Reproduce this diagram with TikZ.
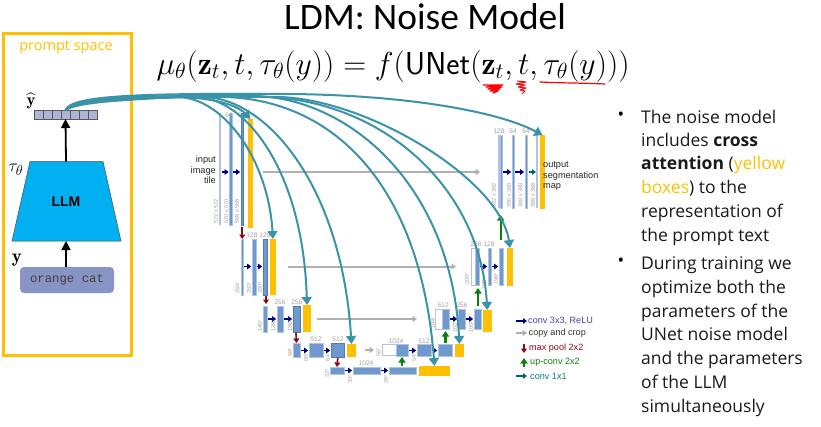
\documentclass[tikz,border=0pt]{standalone}
\usepackage{amsmath}
\usepackage{fontspec}
\usetikzlibrary{arrows.meta,shapes.geometric}
\newfontfamily\slidefont{Open Sans}
\newfontfamily\figfont{Liberation Sans}
\newfontfamily\codefont{Liberation Mono}
\definecolor{gold}{HTML}{FFC000}
\definecolor{tealc}{HTML}{3A93A8}
\definecolor{barblue}{HTML}{6F99CC}
\definecolor{barlight}{HTML}{AFC4E2}
\definecolor{dotc}{HTML}{4F7BB8}
\definecolor{navyc}{HTML}{00007F}
\definecolor{darkred}{HTML}{8B0A14}
\definecolor{greenc}{HTML}{0A7F0A}
\definecolor{greyc}{HTML}{B0B0B0}
\definecolor{labelgrey}{HTML}{A0A0A0}
\definecolor{cellc}{HTML}{AEB6D8}
\definecolor{skyc}{HTML}{00B0F0}
\definecolor{promptc}{HTML}{8794C4}
\newcounter{lblctr}
\tikzset{
  blk/.style={inner sep=0pt,outer sep=0pt,draw=none},
  bluebar/.style={blk,fill=barblue,draw=barlight,line width=.5pt},
  lightbar/.style={blk,fill=barlight},
  whitebar/.style={blk,fill=white,draw=barlight,line width=.7pt},
  dotbar/.style={blk,fill=barblue,draw=dotc,line width=.4pt},
  yellowbar/.style={blk,fill=gold},
  fanline/.style={draw=tealc,line width=2pt,-{Triangle[length=8pt,width=10pt]}},
  navyarr/.style={draw=navyc,line width=1.6pt,-{Triangle[length=4pt,width=5.5pt]},shorten <=.8pt,shorten >=.8pt},
  greyarr/.style={draw=greyc,line width=2pt,-{Triangle[length=4.5pt,width=6pt]}},
  redarr/.style={draw=darkred,line width=1.7pt,-{Triangle[length=4.5pt,width=6pt]}},
  greenarr/.style={draw=greenc,line width=2.2pt,-{Triangle[length=5.5pt,width=7pt]}},
  tealarr/.style={draw=teal!80!black,line width=1.6pt,-{Triangle[length=4pt,width=5.5pt]}},
  blackarr/.style={draw=black,line width=1.8pt,-{Triangle[length=9pt,width=9pt]}},
  numlab/.style={font=\figfont\fontsize{6.6}{7}\selectfont,text=labelgrey,inner sep=0pt},
  sizelab/.style={font=\figfont\fontsize{5.6}{6}\selectfont,text=labelgrey,inner sep=0pt,rotate=90},
  figlab/.style={font=\figfont\fontsize{9.2}{10.6}\selectfont,inner sep=0pt,text=black!85},
  legend/.style={font=\figfont\fontsize{9.1}{10}\selectfont,inner sep=0pt,anchor=west},
  bullettext/.style={font=\slidefont\fontsize{17.5}{20}\selectfont,inner sep=0pt,anchor=base west,text=black!90},
  scribble/.style={draw=red,line cap=round,line join=round},
}
\newcommand{\mybar}[6]{%
  \pgfmathsetmacro{\bw}{#4-#2}\pgfmathsetmacro{\bh}{#5-#3}%
  \pgfmathsetmacro{\bx}{(#4+#2)/2}\pgfmathsetmacro{\by}{(#5+#3)/2}%
  \node[#6,minimum width=\bw pt,minimum height=\bh pt] (#1) at (\bx,\by) {};}
\newcommand{\numl}[3]{\stepcounter{lblctr}\node[numlab] (n\thelblctr) at (#1,#2) {#3};}
\newcommand{\sizel}[3]{\stepcounter{lblctr}\node[sizelab,anchor=west] (s\thelblctr) at (#1,#2) {#3};}
\newcommand{\bul}[3]{\stepcounter{lblctr}\node[bullettext] (t\thelblctr) at (#1,#2) {#3};}
\begin{document}
\begin{tikzpicture}[x=1pt,y=-1pt]
\useasboundingbox (0,0) rectangle (821,426);
% title and formula
\node[font=\fontspec{Carlito}\fontsize{37.4}{42}\selectfont,inner sep=0pt] (title) at (425,17) {LDM: Noise Model};
\node[inner sep=0pt,anchor=base,scale=1.53] (formula) at (393,74) {\fontsize{20.74}{25}\selectfont $\mu_\theta(\mathbf{z}_t,t,\tau_\theta(y))=f(\textsf{UNet}(\mathbf{z}_t,t,\tau_\theta(y)))$};
% prompt panel
\node[blk,draw=gold,line width=3pt,minimum width=128pt,minimum height=322pt] (panel) at (67,194) {};
\node[inner sep=0pt,text=gold,font=\slidefont\fontsize{14.5}{17}\selectfont] (ps) at (66,47) {prompt space};
\foreach \i in {1,...,7}{
  \pgfmathsetmacro{\cx}{38.5+9*(\i-1)}
  \node[blk,fill=cellc,draw=black!65,line width=.8pt,minimum width=9pt,minimum height=9pt] (c\i) at (\cx,114.5) {};
}
\node[inner sep=0pt,font=\fontsize{17}{20}\selectfont] (yhat) at (31,101) {$\widehat{\mathbf{y}}$};
\draw[fill=skyc,draw=black!70,line width=.5pt] (30,161.5) -- (103,161.5) -- (121,241) -- (12,241) -- cycle;
\node[blk,minimum width=28pt,minimum height=79.5pt,font=\figfont\bfseries\fontsize{14}{16}\selectfont] (llm) at (66,201.25) {LLM};
\node[inner sep=0pt,font=\fontsize{19}{22}\selectfont] (tau) at (16,170) {$\tau_\theta$};
\node[inner sep=0pt,font=\fontsize{19}{22}\selectfont] (ylab) at (17,260) {$\mathbf{y}$};
\node[blk,fill=promptc,rounded corners=4pt,minimum width=94pt,minimum height=26pt,text=black!75,font=\codefont\fontsize{12.3}{14}\selectfont] (prompt) at (67,280) {orange cat};
\draw[blackarr] (llm.north) -- (c4.south);
\draw[blackarr] (prompt.north-|llm.south) -- (llm.south);
% level rows
\coordinate (r1) at (0,172);\coordinate (r2) at (0,266.5);\coordinate (r3) at (0,319);\coordinate (r4) at (0,350.5);\coordinate (r5) at (0,370.5);
% contracting path
\mybar{a1}{219}{113}{221}{225}{lightbar}
\mybar{a2}{229.5}{113}{232}{225}{bluebar}
\mybar{a3}{241}{113}{243.5}{225}{dotbar}
\mybar{ya}{248}{119}{253}{228}{yellowbar}
\mybar{b1}{241}{239}{243.5}{295}{bluebar}
\mybar{b2}{252}{239}{256}{295}{bluebar}
\mybar{b3}{263}{239}{267}{295}{dotbar}
\mybar{yb}{270}{239}{276}{295}{yellowbar}
\mybar{c1b}{263.5}{306}{267}{332}{bluebar}
\mybar{c2b}{277}{306}{283}{332}{bluebar}
\mybar{c3b}{293}{306}{300}{332}{dotbar}
\mybar{yc}{303}{305}{311}{332}{yellowbar}
\mybar{d1}{293}{343}{300}{357}{bluebar}
\mybar{d2}{309}{343}{323}{357}{bluebar}
\mybar{d3}{331}{343}{344.5}{357}{dotbar}
\mybar{yd}{347}{344}{356}{357}{yellowbar}
\mybar{e1}{330}{367}{344}{374}{bluebar}
\mybar{e2}{353}{367}{380}{374}{bluebar}
\mybar{e3}{389}{367}{416}{374}{bluebar}
\mybar{ye}{419}{366}{450}{376}{yellowbar}
% expanding path
\mybar{f0}{382}{344.5}{396}{355}{whitebar}
\mybar{f1}{396}{344}{408}{356}{bluebar}
\mybar{f2}{417}{344}{431}{356}{bluebar}
\mybar{f3}{438}{344}{452}{356}{bluebar}
\mybar{yf}{455}{344}{464}{357}{yellowbar}
\mybar{g0}{435.5}{309}{442}{329}{whitebar}
\mybar{g1}{442}{309}{449}{329}{bluebar}
\mybar{g2}{458}{309}{465}{329}{bluebar}
\mybar{g3}{474}{309}{481}{329}{bluebar}
\mybar{yg}{483}{310}{491.5}{332}{yellowbar}
\mybar{h0}{471.5}{248}{475}{285}{whitebar}
\mybar{h1}{475}{248}{479}{285}{bluebar}
\mybar{h2}{488}{248}{491.5}{285}{bluebar}
\mybar{h3}{499}{248}{503}{285}{bluebar}
\mybar{yh}{507}{248}{513}{286}{yellowbar}
\mybar{i0}{497.5}{135}{500}{208}{lightbar}
\mybar{i1}{500}{135}{502.5}{208}{bluebar}
\mybar{i2}{512}{135}{514.5}{208}{bluebar}
\mybar{i3}{525}{135}{527.5}{208}{bluebar}
\mybar{i4}{536}{135}{538}{208}{lightbar}
\mybar{yi}{540}{135}{545}{209}{yellowbar}
% navy arrows
\draw[navyarr] (a1.east|-r1) -- (a2.west|-r1);
\draw[navyarr] (a2.east|-r1) -- (a3.west|-r1);
\draw[navyarr] (b1.east|-r2) -- (b2.west|-r2);
\draw[navyarr] (b2.east|-r2) -- (b3.west|-r2);
\draw[navyarr] (c1b.east|-r3) -- (c2b.west|-r3);
\draw[navyarr] (c2b.east|-r3) -- (c3b.west|-r3);
\draw[navyarr] (d1.east|-r4) -- (d2.west|-r4);
\draw[navyarr] (d2.east|-r4) -- (d3.west|-r4);
\draw[navyarr] (e1.east|-r5) -- (e2.west|-r5);
\draw[navyarr] (e2.east|-r5) -- (e3.west|-r5);
\draw[navyarr] (f1.east|-r4) -- (f2.west|-r4);
\draw[navyarr] (f2.east|-r4) -- (f3.west|-r4);
\draw[navyarr] (g1.east|-r3) -- (g2.west|-r3);
\draw[navyarr] (g2.east|-r3) -- (g3.west|-r3);
\draw[navyarr] (h1.east|-r2) -- (h2.west|-r2);
\draw[navyarr] (h2.east|-r2) -- (h3.west|-r2);
\draw[navyarr] (i1.east|-r1) -- (i2.west|-r1);
\draw[navyarr] (i2.east|-r1) -- (i3.west|-r1);
\draw[tealarr,shorten <=1pt] (i3.east|-r1) -- (i4.west|-r1);
% grey copy arrows
\coordinate (g1s) at (263,172);\coordinate (g1e) at (480,172);
\coordinate (g2s) at (288,266.5);\coordinate (g2e) at (456,266.5);
\coordinate (g3s) at (317,319);\coordinate (g3e) at (417,319);
\coordinate (g4s) at (365,350);\coordinate (g4e) at (374,350);
\draw[greyarr] (g1s) -- (g1e);
\draw[greyarr] (g2s) -- (g2e);
\draw[greyarr] (g3s) -- (g3e);
\draw[greyarr] (g4s) -- (g4e);
% red down arrows
\draw[redarr] (a3.south) ++(0,2) -- (b1.north);
\draw[redarr] (b3.south) ++(1,1) -- ++(0,8);
\draw[redarr] (c3b.south) ++(-.5,1) -- (d1.north-|c3b.south);
\draw[redarr] (d3.south) ++(0,1) -- (e1.north);
% green up arrows
\draw[greenarr] (402,366) -- (402,357);
\draw[greenarr] (445.5,343) -- (445.5,331);
\draw[greenarr] (478,306) -- (478,288);
\draw[greenarr] (500.7,240) -- (500.7,215);
% number labels
\numl{229}{115.5}{64}\numl{241.5}{115.5}{64}
\numl{252}{235.5}{128}\numl{265}{235.5}{128}
\numl{280}{302.5}{256}\numl{297}{302.5}{256}
\numl{316}{339}{512}\numl{338}{339}{512}
\numl{366}{363}{1024}
\numl{396}{341}{1024}\numl{424}{341}{512}
\numl{443}{305.5}{512}\numl{462}{305.5}{256}
\numl{476}{244.5}{256}\numl{489}{244.5}{128}
\numl{499}{131.5}{128}\numl{513}{131.5}{64}\numl{526}{131.5}{64}
% size labels
\sizel{216}{224}{572 x 572}\sizel{226.5}{224}{570 x 570}\sizel{237}{224}{568 x 568}
\sizel{237.5}{294}{284²}\sizel{249}{294}{282²}\sizel{260}{294}{280²}
\sizel{260}{332}{140²}\sizel{273.5}{332}{138²}\sizel{290}{332}{136²}
\sizel{290}{357}{68²}\sizel{306}{362}{66²}\sizel{328}{362}{64²}
\sizel{327}{378}{32²}\sizel{350}{384}{30²}\sizel{386}{384}{28²}
\sizel{378.5}{357}{56²}\sizel{414}{362}{54²}
\sizel{433}{329}{104²}\sizel{455}{333}{102²}\sizel{471}{333}{100²}
\sizel{467}{285}{200²}\sizel{484}{290}{198²}\sizel{496}{285}{196²}
\sizel{494}{208}{392 x 392}\sizel{509}{208}{390 x 390}\sizel{520.5}{208}{388 x 388}\sizel{533}{208}{388 x 388}
% figure texts
\node[figlab,align=right,anchor=east] (inputl) at (216,170) {input\\image\\tile};
\node[figlab,align=left,anchor=west] (outputl) at (543,176) {output\\segmentation\\map};
% teal fan
\draw[fanline] (c4.north) .. controls (76,102) and (125,100) .. (175,97) .. controls (205,97) and (235,103) .. (ya.north);
\draw[fanline] (c4.north) .. controls (76,102) and (125,99) .. (180,97) .. controls (225,100) and (268,160) .. (yb.north);
\draw[fanline] (c4.north) .. controls (76,101) and (125,98) .. (195,97) .. controls (245,97) and (303,170) .. (yc.north);
\draw[fanline] (c4.north) .. controls (76,101) and (130,97) .. (205,97) .. controls (270,100) and (342,190) .. (yd.north);
\draw[fanline] (c4.north) .. controls (75,99) and (130,96) .. (225,97) .. controls (330,100) and (420,180) .. (ye.north);
\draw[fanline] (c4.north) .. controls (75,99) and (130,95) .. (255,96) .. controls (345,98) and (450,180) .. (yf.north);
\draw[fanline] (c4.north) .. controls (74,98) and (130,95) .. (265,97) .. controls (380,100) and (480,185) .. (yg.north);
\draw[fanline] (c4.north) .. controls (73,97) and (130,95) .. (280,97) .. controls (370,100) and (500,180) .. (yh.north);
\draw[fanline] (c4.north) .. controls (72,96) and (130,93) .. (290,94) .. controls (400,95) and (495,110) .. (yi.north);
% legend
\coordinate (la1) at (516,321);\coordinate (la2) at (527,321);
\coordinate (lb1) at (516,333);\coordinate (lb2) at (527,333);
\coordinate (lc1) at (524,344);\coordinate (lc2) at (524,353);
\coordinate (ld1) at (524,367);\coordinate (ld2) at (524,358);
\coordinate (le1) at (516,376);\coordinate (le2) at (527,376);
\draw[navyarr,shorten <=0pt,shorten >=0pt] (la1) -- (la2);
\draw[greyarr] (lb1) -- (lb2);
\draw[redarr] (lc1) -- (lc2);
\draw[greenarr] (ld1) -- (ld2);
\draw[tealarr] (le1) -- (le2);
\node[legend,text=navyc!75!white] (l1) at (528,321) {conv 3x3, ReLU};
\node[legend,text=black!80] (l2) at (528.5,333) {copy and crop};
\node[legend,text=darkred] (l3) at (529,348) {max pool 2x2};
\node[legend,text=greenc] (l4) at (530,362) {up-conv 2x2};
\node[legend,text=teal] (l5) at (530,376) {conv 1x1};
% red scribbles
\draw[scribble,line width=1.2pt] (540,82) .. controls (560,83) and (585,83) .. (605,84);
\draw[scribble,line width=1.3pt] (483,85) -- (503,85) -- (486,87) -- (502,87) -- (488,89) -- (500,89) -- (490,91) -- (498,91) -- (493,93);
\draw[scribble,line width=1pt] (517,81) -- (526,82) -- (516,84) -- (525,85) -- (518,87) -- (526,88) -- (520,90) -- (525,91) -- (522,94);
% bullets
\node[inner sep=0pt,font=\slidefont\fontsize{17.5}{20}\selectfont] (bu1) at (621,116) {•};
\node[inner sep=0pt,font=\slidefont\fontsize{17.5}{20}\selectfont] (bu2) at (621,262) {•};
\bul{641}{123}{The noise model}
\bul{641}{146}{includes \textbf{cross}}
\bul{641}{169}{\textbf{attention} (\textcolor{gold}{yellow}}
\bul{641}{193}{\textcolor{gold}{boxes}) to the}
\bul{641}{217}{representation of}
\bul{641}{241}{the prompt text}
\bul{641}{269}{During training we}
\bul{641}{293}{optimize both the}
\bul{641}{317}{parameters of the}
\bul{641}{340}{UNet noise model}
\bul{641}{364}{and the parameters}
\bul{641}{388}{of the LLM}
\bul{641}{412}{simultaneously}
\end{tikzpicture}
\end{document}
